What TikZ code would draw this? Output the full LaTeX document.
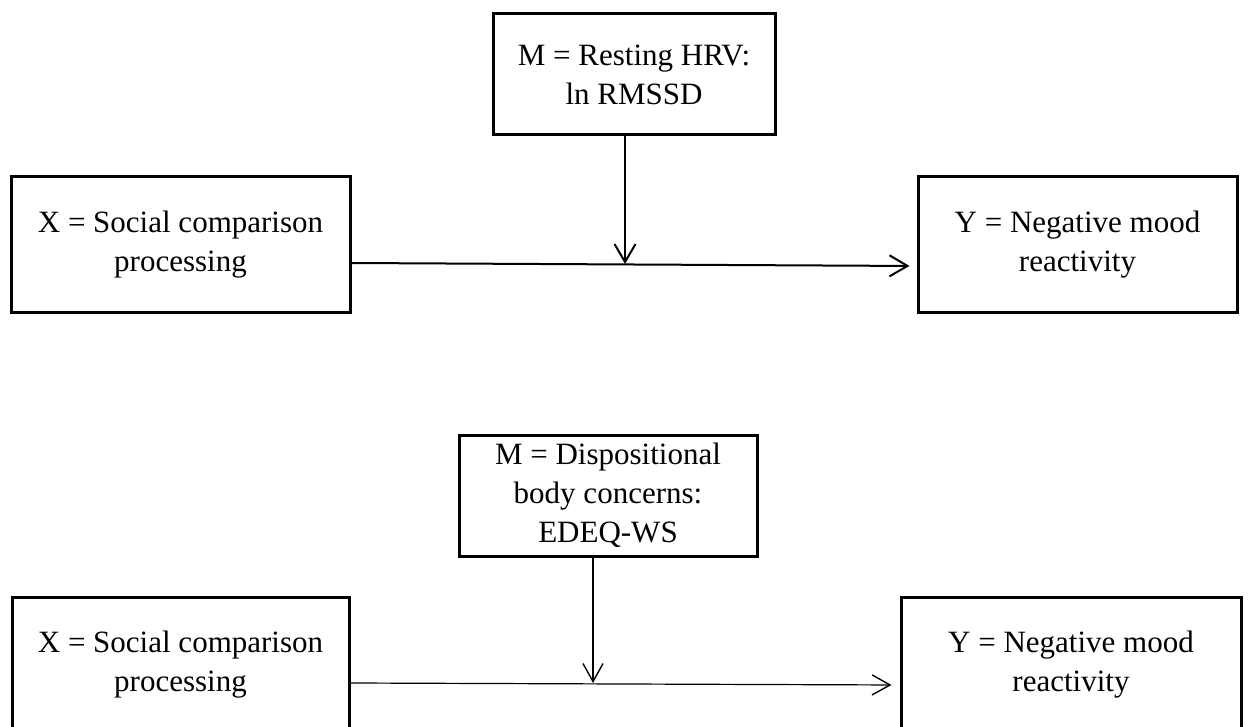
\documentclass[tikz,border=0pt]{standalone}
\usepackage{fontspec}
\setmainfont{Liberation Serif}
\usetikzlibrary{arrows.meta}

\tikzset{
  caja/.style={draw, line width=1.5pt, align=center, inner sep=0pt,
    font=\fontsize{15.5}{19.5}\selectfont},
  flecha/.style={line width=1pt,
    -{Straight Barb[length=9pt,width=10.5pt,line width=1pt]}},
  flechafina/.style={line width=0.6pt,
    -{Straight Barb[length=9pt,width=10pt,line width=0.7pt]}},
}

\begin{document}
\begin{tikzpicture}[x=0.5pt,y=-0.5pt]

    % Marco de la figura
    \useasboundingbox (0,0) rectangle (1248,727);
    \clip (0,0) rectangle (1248,727);

    % Modelo superior: cajas
    \node[caja, minimum width=141pt, minimum height=60.5pt] (m1) at (634,74.5) {M = Resting HRV:\\ln RMSSD};
    \node[caja, minimum width=169.5pt, minimum height=68pt] (x1) at (180.5,245) {X = Social comparison\\processing};
    \node[caja, minimum width=159.5pt, minimum height=68pt] (y1) at (1077.5,245) {Y = Negative mood\\reactivity};

    % Modelo superior: flechas
    \coordinate (j1) at (625,264);
    \draw[flecha, shorten >=3.5pt] ([yshift=-9pt]x1.east) -- ([yshift=-10.5pt]y1.west);
    \draw[flecha] (m1.south -| j1) -- (j1);

    % Modelo inferior: cajas
    \node[caja, minimum width=149pt, minimum height=60.5pt] (m2) at (608,495.5) {M = Dispositional\\body concerns:\\EDEQ-WS};
    \node[caja, minimum width=168.5pt, minimum height=68pt] (x2) at (180.5,665) {X = Social comparison\\processing};
    \node[caja, minimum width=170pt, minimum height=68pt] (y2) at (1071,665) {Y = Negative mood\\reactivity};

    % Modelo inferior: flechas
    \coordinate (j2) at (593,683);
    \draw[flechafina, shorten >=4pt] ([yshift=-9pt]x2.east) -- ([yshift=-10pt]y2.west);
    \draw[flechafina] (m2.south -| j2) -- (j2);

\end{tikzpicture}
\end{document}
